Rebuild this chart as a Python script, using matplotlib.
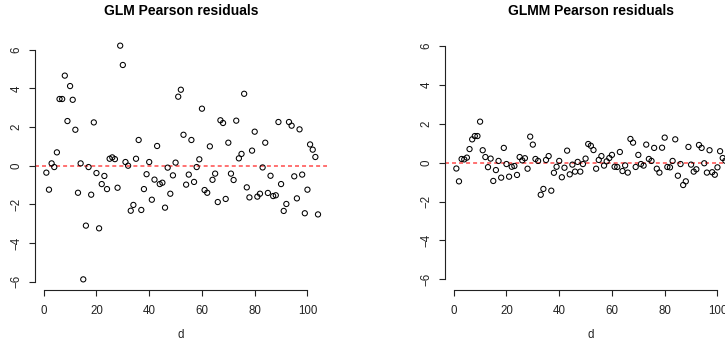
import matplotlib
matplotlib.use("Agg")
import matplotlib.pyplot as plt
import numpy as np

plt.rcParams['font.family'] = ['Liberation Sans', 'DejaVu Sans']

glm_resid = [
    -0.36, -1.24, 0.12, -0.07, 0.69, 3.45, 3.45, 4.66, 2.31, 4.12,
    3.41, 1.86, -1.40, 0.12, -5.88, -3.10, -0.07, -1.50, 2.24, -0.38,
    -3.24, -0.95, -0.53, -1.21, 0.36, 0.43, 0.34, -1.14, 6.21, 5.21,
    0.19, 0.00, -2.33, -2.03, 0.36, 1.33, -2.29, -1.21, -0.44, 0.19,
    -1.76, -0.72, 1.02, -0.95, -0.88, -2.17, -0.10, -1.45, -0.50, 0.16,
    3.57, 3.93, 1.60, -0.98, -0.46, 1.33, -0.84, -0.07, 0.33, 2.95,
    -1.26, -1.40, 1.00, -0.73, -0.41, -1.88, 2.35, 2.21, -1.72, 1.19,
    -0.41, -0.74, 2.33, 0.38, 0.61, 3.72, -1.12, -1.64, 0.78, 1.76,
    -1.60, -1.45, -0.09, 1.19, -1.41, -0.52, -1.57, -1.53, 2.26, -0.95,
    -2.34, -1.98, 2.26, 2.07, -0.55, -1.69, 1.88, -0.46, -2.46, -1.24,
    1.10, 0.83, 0.45, -2.52,
]

glmm_resid = [
    -0.30, -0.96, 0.19, 0.17, 0.26, 0.70, 1.20, 1.37, 1.37, 2.11,
    0.64, 0.29, -0.23, 0.21, -0.94, -0.38, 0.09, -0.77, 0.76, -0.07,
    -0.72, -0.21, -0.17, -0.63, 0.29, 0.12, 0.23, -0.31, 1.34, 0.93,
    0.19, 0.09, -1.65, -1.35, 0.14, 0.34, -1.44, -0.52, -0.21, 0.09,
    -0.75, -0.26, 0.62, -0.60, -0.10, -0.46, 0.04, -0.46, -0.07, 0.21,
    0.96, 0.87, 0.65, -0.31, 0.14, 0.34, -0.15, 0.07, 0.24, 0.40,
    -0.21, -0.22, 0.55, -0.43, -0.14, -0.51, 1.22, 1.03, -0.22, 0.40,
    -0.07, -0.15, 0.93, 0.19, 0.09, 0.76, -0.31, -0.51, 0.77, 1.29,
    -0.22, -0.24, 0.09, 1.20, -0.67, -0.07, -1.15, -0.96, 0.81, -0.10,
    -0.46, -0.34, 0.91, 0.76, -0.03, -0.51, 0.64, -0.49, -0.62, -0.24,
    0.59, 0.24, 0.10, 0.30,
]

titles = ["GLM Pearson residuals", "GLMM Pearson residuals"]
x_ticks = [0, 20, 40, 60, 80, 100]
y_ticks = [-6, -4, -2, 0, 2, 4, 6]
xlabel = "d"

W, H = 725, 345
fig = plt.figure(figsize=(W / 100, H / 100), dpi=100)

def frac_rect(x0, y0, x1, y1):
    return [x0 / W, 1 - y1 / H, (x1 - x0) / W, (y1 - y0) / H]

panels = [
    (glm_resid, frac_rect(35, 36.5, 326.7, 290.3), (-6.446, 6.684)),
    (glmm_resid, frac_rect(445, 36.5, 736.7, 290.3), (-6.564, 6.49)),
]

for (vals, rect, ylim), title in zip(panels, titles):
    ax = fig.add_axes(rect)
    d = np.arange(1, len(vals) + 1)
    ax.scatter(d, vals, s=14, facecolors='none', edgecolors='black',
               linewidths=0.75, zorder=3, clip_on=False)
    ax.axhline(0, color='#ff4a4a', lw=1.1, linestyle=(0, (2.6, 2.0)), zorder=2)
    ax.set_xlim(-3.3, 107.3)
    ax.set_ylim(*ylim)
    for s in ['top', 'right']:
        ax.spines[s].set_visible(False)
    ax.spines['left'].set_bounds(-6, 6)
    ax.spines['bottom'].set_bounds(0, 100)
    for s in ['left', 'bottom']:
        ax.spines[s].set_linewidth(0.8)
        ax.spines[s].set_color('#222222')
    ax.set_xticks(x_ticks)
    ax.set_yticks(y_ticks)
    ax.set_xticklabels([str(t) for t in x_ticks])
    ax.set_yticklabels([str(t).replace('-', '\u2212') for t in y_ticks],
                       rotation=90, va='center')
    ax.tick_params(axis='both', length=4.3, width=0.8, color='#222222',
                   labelsize=8.3, labelcolor='#222222')
    ax.tick_params(axis='x', pad=6.5)
    ax.tick_params(axis='y', pad=4.8)
    ax.set_xlabel(xlabel, fontsize=8.3, color='#222222', labelpad=8.5)
    ax.set_title(title, fontsize=10, fontweight='bold', pad=15.5)

fig.savefig("out.png", dpi=100)
